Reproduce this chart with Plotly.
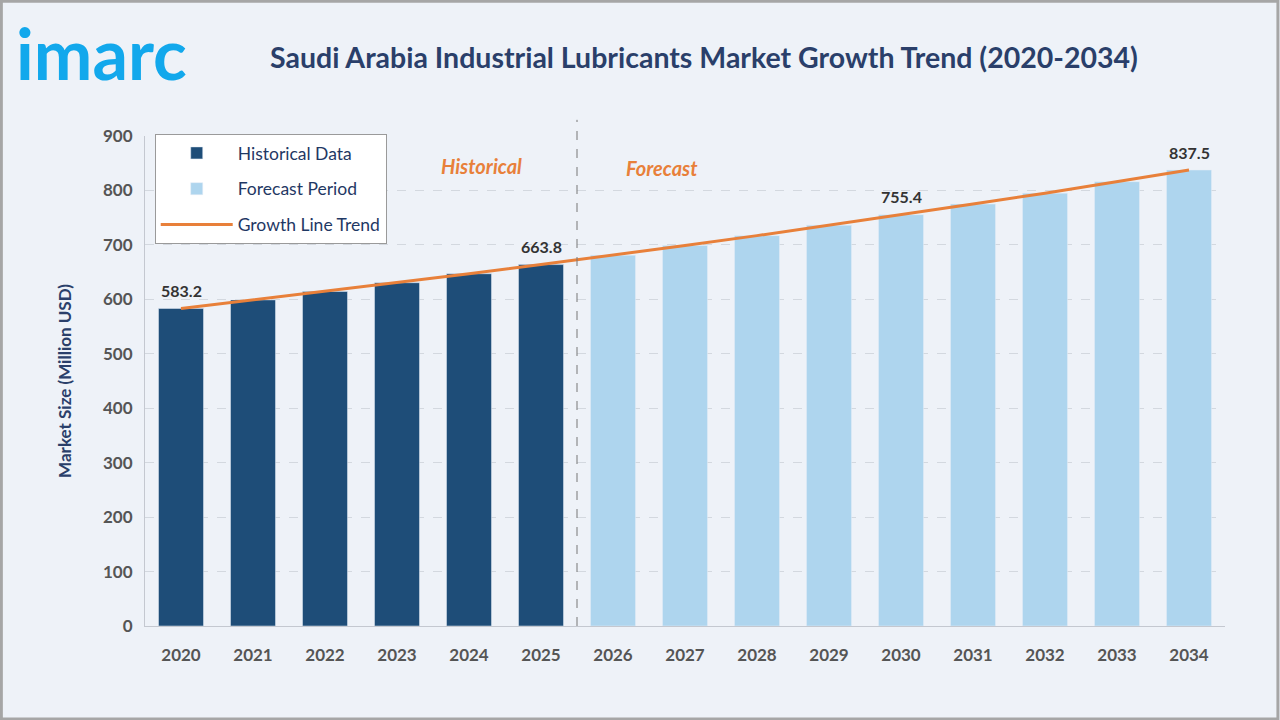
import plotly.graph_objects as go

# ---- data ----
hist_years = [2020, 2021, 2022, 2023, 2024, 2025]
hist_values = [583.2, 599.0, 614.5, 630.5, 647.0, 663.8]
fcst_years = [2026, 2027, 2028, 2029, 2030, 2031, 2032, 2033, 2034]
fcst_values = [681.0, 699.0, 717.0, 736.0, 755.4, 775.0, 795.0, 816.0, 837.5]
label_years = [2020, 2025, 2030, 2034]
label_values = [583.2, 663.8, 755.4, 837.5]
y_ticks = [0, 100, 200, 300, 400, 500, 600, 700, 800, 900]

NAVY = "#1f3864"
DARK = "#1e4d78"
LIGHT = "#aed5ee"
ORANGE = "#e8803a"
BG = "#eef2f8"
FONT = "Lato"

fig = go.Figure()
fig.add_trace(go.Bar(x=hist_years, y=hist_values, name="Historical Data",
                     marker={'color': DARK}, legendgroup="a", hoverinfo="x+y"))
fig.add_trace(go.Bar(x=fcst_years, y=fcst_values, name="Forecast Period",
                     marker={'color': LIGHT}, legendgroup="b", hoverinfo="x+y"))
fig.add_trace(go.Scatter(x=hist_years + fcst_years, y=hist_values + fcst_values,
                         name="Growth Line Trend", mode="lines",
                         line={'color': ORANGE, 'width': 3}, legendgroup="c"))

# value labels above selected bars
for yr, val in zip(label_years, label_values):
    fig.add_annotation(x=yr, y=val, text=f"<b>{val:.1f}</b>", showarrow=False,
                       yshift=18, font={'family': FONT, 'size': 16, 'color': "#333333"})

# period captions
fig.add_annotation(x=2024.17, y=844, text="<b><i>Historical</i></b>", showarrow=False,
                   font={'family': FONT, 'size': 20, 'color': ORANGE})
fig.add_annotation(x=2026.68, y=841, text="<b><i>Forecast</i></b>", showarrow=False,
                   font={'family': FONT, 'size': 20, 'color': ORANGE})

# divider between historical and forecast
fig.add_shape(type="line", xref="x", yref="paper", x0=2025.5, x1=2025.5, y0=0, y1=1.033,
              line={'color': "#777777", 'width': 1, 'dash': 'dash'})

# logo + title
fig.add_annotation(xref="paper", yref="paper", x=-0.121, y=1.17, xanchor="left",
                   yanchor="middle", text="<b>imarc</b>", showarrow=False,
                   font={'family': FONT, 'size': 70, 'color': "#12a8ec"})
fig.add_annotation(xref="paper", yref="paper", x=0.518, y=1.161, xanchor="center",
                   yanchor="middle",
                   text="<b>Saudi Arabia Industrial Lubricants Market Growth Trend (2020-2034)</b>",
                   showarrow=False, font={'family': FONT, 'size': 28.5, 'color': "#2a3f6a"})

# outer frame
fig.add_shape(type="rect", xref="paper", yref="paper", x0=-0.133, x1=1.049,
              y0=-0.19, y1=1.275, line={'color': "#a6a6a6", 'width': 3})

fig.update_layout(
    width=1280, height=720,
    margin={'l': 145, 'r': 55, 't': 136, 'b': 94},
    paper_bgcolor=BG, plot_bgcolor=BG,
    barmode="overlay", bargap=0.375,
    font={'family': FONT},
    showlegend=True,
    legend={'x': 0.009, 'y': 1.004, 'xanchor': 'left', 'yanchor': 'top',
            'bgcolor': "white", 'bordercolor': "#9a9a9a", 'borderwidth': 1,
            'font': {'family': FONT, 'size': 17.5, 'color': NAVY},
            'traceorder': 'grouped', 'tracegroupgap': 10, 'itemwidth': 72},
)
fig.update_xaxes(range=[2019.5, 2034.5], tickvals=hist_years + fcst_years,
                 showline=True, linecolor="#c4c8d0", linewidth=1, showgrid=False,
                 tickfont={'family': FONT, 'size': 17, 'color': "#555555", 'weight': 'bold'},
                 ticks="", ticklabelstandoff=14)
fig.update_yaxes(range=[0, 900], tickvals=y_ticks, showline=True, linecolor="#c4c8d0",
                 gridcolor="#d3d8df", griddash="dash", zeroline=False,
                 tickfont={'family': FONT, 'size': 17, 'color': "#555555", 'weight': 'bold'},
                 title={'text': "<b>Market Size (Million USD)</b>", 'standoff': 27,
                        'font': {'family': FONT, 'size': 17, 'color': "#2a3f6a"}},
                 ticklabelstandoff=8)

# drop the page's default body margin so the figure sits at the window's corner
fig.write_html("out.html", config={'displayModeBar': False},
               post_script="document.body.style.margin='0';")
